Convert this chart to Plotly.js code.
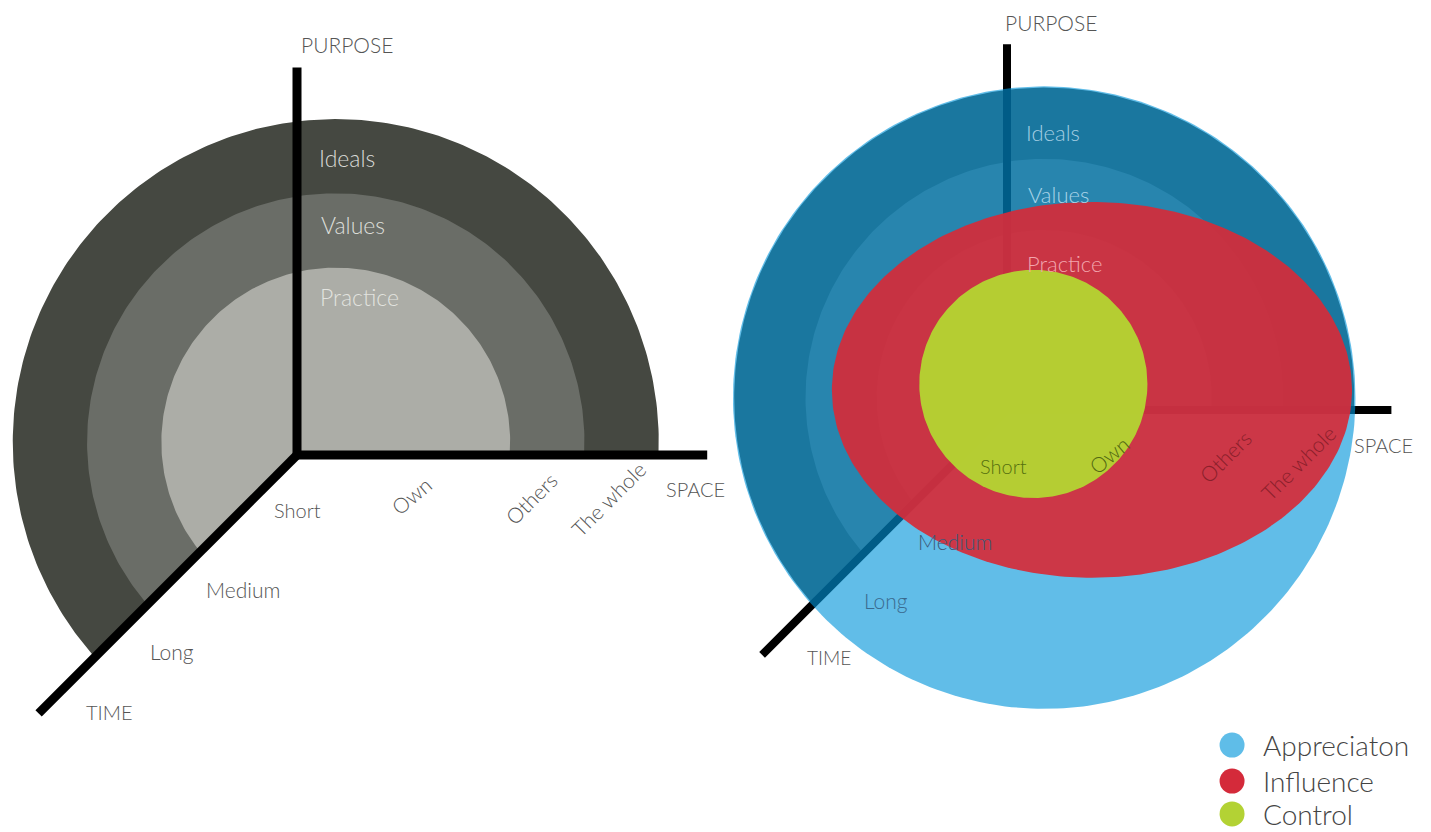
<!DOCTYPE html>
<html>
<head>
<meta charset="utf-8">
<script src="https://cdn.plot.ly/plotly-3.0.1.min.js"></script>
<style>html,body{margin:0;padding:0;background:#fff;}#chart{width:1431px;height:832px;}</style>
</head>
<body>
<div id="chart"></div>
<script>
// ---- data ----
const ringNames = ['Ideals', 'Values', 'Practice'];
const ringRadius = [1.0, 0.77, 0.54];
const ringColors = ['#454841', '#6a6d67', '#acada7'];
const ringCenter = [0.12, 0.04];           // ring centre relative to the axis origin
const timeLabels = ['Short', 'Medium', 'Long'];
const spaceLabels = ['Own', 'Others', 'The whole'];
const axisNames = ['PURPOSE', 'SPACE', 'TIME'];
const axisLengthLeft = [1.20, 1.27, 0.80];  // purpose, space, time
const axisLengthRight = [1.18, 1.24, 0.79];
const overlayNames = ['Appreciaton', 'Influence', 'Control'];
const overlayCx = [0.12, 0.274, 0.085];
const overlayCy = [0.04, 0.065, 0.084];
const overlayRx = [1.004, 0.839, 0.368];
const overlayRy = [1.004, 0.606, 0.368];
const overlayFill = ['rgba(0,148,218,0.62)', 'rgba(212,44,58,0.93)', 'rgba(180,211,50,0.96)'];
const legendColors = ['#5fbde8', '#d42a3a', '#b3d234'];

// ---- helpers ----
function ringPie(r) {
  const cx = ringCenter[0], cy = ringCenter[1];
  const a0 = -Math.asin(cy / r);
  const a1 = Math.PI * 1.25 - Math.asin((cx - cy) / (Math.SQRT2 * r));
  const xs = [], ys = [];
  const n = 240;
  for (let i = 0; i <= n; i++) {
    const a = a0 + (a1 - a0) * i / n;
    xs.push(cx + r * Math.cos(a));
    ys.push(cy + r * Math.sin(a));
  }
  xs.push(0); ys.push(0);
  return {x: xs, y: ys};
}
function ellipse(cx, cy, rx, ry) {
  const xs = [], ys = [];
  for (let i = 0; i <= 300; i++) {
    const a = 2 * Math.PI * i / 300;
    xs.push(cx + rx * Math.cos(a));
    ys.push(cy + ry * Math.sin(a));
  }
  return {x: xs, y: ys};
}

const traces = [];
function addDiagram(xa, ya, lens, lw) {
  ringRadius.forEach((r, i) => {
    const p = ringPie(r);
    traces.push({x: p.x, y: p.y, xaxis: xa, yaxis: ya, mode: 'lines', fill: 'toself',
      fillcolor: ringColors[i], line: {width: 0, color: 'rgba(0,0,0,0)'}, hoverinfo: 'skip', name: ringNames[i]});
  });
  traces.push({x: [0, 0, lens[1]], y: [lens[0], 0, 0], xaxis: xa, yaxis: ya, mode: 'lines',
    line: {color: '#000', width: lw}, hoverinfo: 'skip'});
  traces.push({x: [0, -lens[2]], y: [0, -lens[2]], xaxis: xa, yaxis: ya, mode: 'lines',
    line: {color: '#000', width: lw}, hoverinfo: 'skip'});
}
addDiagram('x', 'y', axisLengthLeft, 9);
addDiagram('x2', 'y2', axisLengthRight, 8);
overlayNames.forEach((nm, i) => {
  const e = ellipse(overlayCx[i], overlayCy[i], overlayRx[i], overlayRy[i]);
  traces.push({x: e.x, y: e.y, xaxis: 'x2', yaxis: 'y2', mode: 'lines', fill: 'toself',
    fillcolor: overlayFill[i], line: {width: 0, color: 'rgba(0,0,0,0)'}, hoverinfo: 'skip', name: nm});
});
// legend markers
const legX = [0.726, 0.726, 0.726];
const legY = [-1.081, -1.197, -1.303];
traces.push({x: legX, y: legY, xaxis: 'x2', yaxis: 'y2', mode: 'markers',
  marker: {size: 25, color: legendColors, line: {width: 0}}, hoverinfo: 'skip'});

// ---- labels ----
const FONT = 'Lato, "Open Sans", sans-serif';
const annotations = [];
function lab(xref, yref, text, x, y, size, color, angle) {
  annotations.push({xref: xref, yref: yref, x: x, y: y, text: text, showarrow: false,
    xanchor: 'center', yanchor: 'middle', textangle: angle || 0,
    font: {family: FONT, size: size, color: color, weight: 300}});
}
// left diagram
lab('x', 'y', axisNames[0], 0.155, 1.27, 21, '#555');
lab('x', 'y', ringNames[0], 0.155, 0.92, 23, '#d9dad6');
lab('x', 'y', ringNames[1], 0.173, 0.712, 23, '#dcddd9');
lab('x', 'y', ringNames[2], 0.195, 0.489, 23, '#e2e3df');
lab('x', 'y', timeLabels[0], 0.0, -0.170, 20, '#555');
lab('x', 'y', timeLabels[1], -0.167, -0.415, 21, '#555');
lab('x', 'y', timeLabels[2], -0.387, -0.607, 21, '#555');
lab('x', 'y', axisNames[2], -0.579, -0.796, 20, '#555');
lab('x', 'y', spaceLabels[0], 0.353, -0.125, 21, '#555', -40);
lab('x', 'y', spaceLabels[1], 0.724, -0.135, 21, '#555', -45);
lab('x', 'y', spaceLabels[2], 0.965, -0.135, 21, '#555', -45);
lab('x', 'y', axisNames[1], 1.235, -0.105, 20, '#555');
// right diagram
lab('x2', 'y2', axisNames[0], 0.142, 1.25, 21, '#555');
lab('x2', 'y2', ringNames[0], 0.148, 0.894, 22, '#a3cde2');
lab('x2', 'y2', ringNames[1], 0.165, 0.694, 22, '#a8d3e8');
lab('x2', 'y2', ringNames[2], 0.187, 0.474, 22, '#f2a5ad');
lab('x2', 'y2', timeLabels[0], -0.01, -0.180, 20, '#55700f');
lab('x2', 'y2', timeLabels[1], -0.168, -0.425, 21, '#3d5878');
lab('x2', 'y2', timeLabels[2], -0.39, -0.613, 21, '#3a6a8e');
lab('x2', 'y2', axisNames[2], -0.574, -0.797, 19, '#555');
lab('x2', 'y2', spaceLabels[0], 0.330, -0.145, 21, '#526912', -40);
lab('x2', 'y2', spaceLabels[1], 0.703, -0.150, 21, '#8a1f2b', -45);
lab('x2', 'y2', spaceLabels[2], 0.940, -0.170, 21, '#8a1f2b', -45);
lab('x2', 'y2', axisNames[1], 1.215, -0.113, 20, '#555');
// legend text
overlayNames.forEach((nm, i) => {
  annotations.push({xref: 'x2', yref: 'y2', x: 0.82, y: legY[i], text: nm, showarrow: false,
    xanchor: 'left', yanchor: 'middle',
    font: {family: FONT, size: 28, color: '#444', weight: 300}});
});

const W = 1431, H = 832, split = 720;
const sL = 323, oxL = 297, oyL = 455;
const sR = 310, oxR = 1007, oyR = 410;
const hid = {visible: false, showgrid: false, zeroline: false, fixedrange: true};
const layout = {
  width: W, height: H, margin: {l: 0, r: 0, t: 0, b: 0},
  paper_bgcolor: '#fff', plot_bgcolor: 'rgba(0,0,0,0)', showlegend: false,
  xaxis: Object.assign({domain: [0, split / W], range: [-oxL / sL, (split - oxL) / sL]}, hid),
  yaxis: Object.assign({domain: [0, 1], range: [-(H - oyL) / sL, oyL / sL]}, hid),
  xaxis2: Object.assign({domain: [split / W, 1], anchor: 'y2', range: [-(oxR - split) / sR, (W - oxR) / sR]}, hid),
  yaxis2: Object.assign({domain: [0, 1], anchor: 'x2', range: [-(H - oyR) / sR, oyR / sR]}, hid),
  annotations: annotations
};
Plotly.newPlot('chart', traces, layout, {staticPlot: true, displayModeBar: false});
</script>
</body>
</html>
